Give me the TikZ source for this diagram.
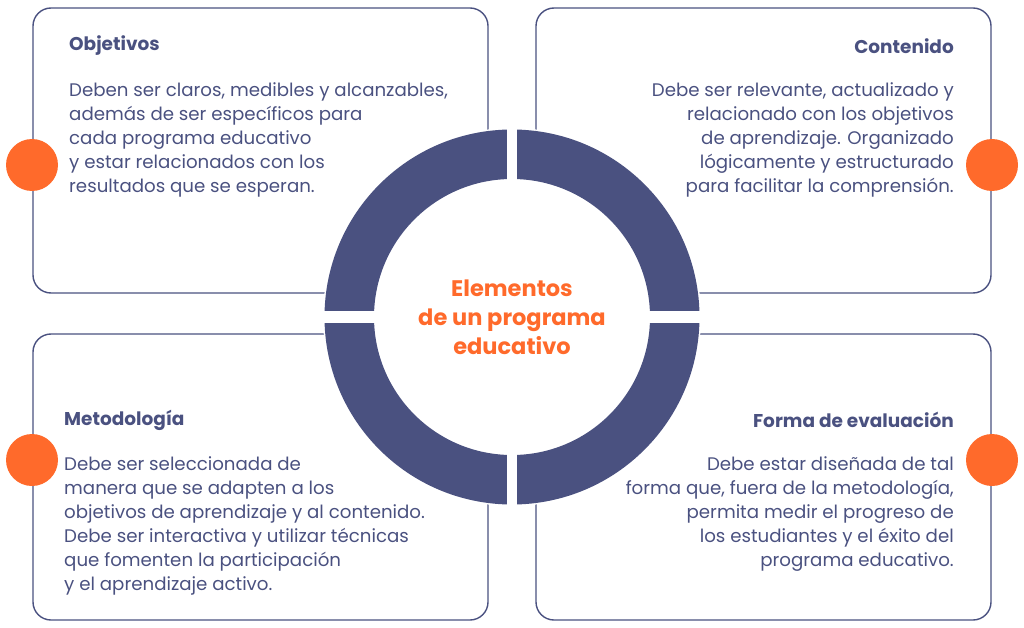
\documentclass[tikz,border=0pt]{standalone}
\usepackage{fontspec}
\setmainfont{Poppins}
\usetikzlibrary{positioning,calc}
\definecolor{navy}{HTML}{4A5180}
\definecolor{orangedot}{HTML}{FF6A2B}
\tikzset{
  card/.style={draw=navy, line width=1.4pt, rounded corners=18pt},
  dot/.style={circle, fill=orangedot, minimum size=52pt, inner sep=0pt},
  head/.style={inner sep=0pt, text=navy, font=\fontsize{18.5}{22}\selectfont\bfseries},
  body/.style={inner sep=0pt, text=navy, font=\fontsize{18.2}{24}\selectfont},
}
\begin{document}
\begin{tikzpicture}[x=1pt,y=-1pt]
\useasboundingbox (0,0) rectangle (1024,628);
% cards
\draw[card] (33,8) rectangle (488,293);
\draw[card] (536,8) rectangle (991,293);
\draw[card] (33,334) rectangle (488,620);
\draw[card] (536,334) rectangle (991,620);
% dots
\node[dot] (d1) at (32,165) {};
\node[dot] (d2) at (992,165) {};
\node[dot] (d3) at (32,460) {};
\node[dot] (d4) at (992,460) {};
% ring
\coordinate (c) at (512,317);
\fill[white] (c) circle (189pt);
\foreach \a in {0,90,180,270}
  \fill[navy] ($(c)+(\a:187.5pt)$) arc[start angle=\a, end angle=\a+90, radius=187.5pt]
    -- ($(c)+(\a+90:138pt)$) arc[start angle=\a+90, end angle=\a, radius=138pt] -- cycle;
\fill[white] (507,120) rectangle (517,514);
\fill[white] (315,311) rectangle (709,323);
\node[text=orangedot, align=center, font=\fontsize{22.5}{29}\selectfont\bfseries] (title) at (c) {Elementos\\de un programa\\educativo};
% texts
\node[head, anchor=west] (h1) at (69,46) {Objetivos};
\node[body, anchor=north west, align=left] (t1) at (69,82) {Deben ser claros, medibles y alcanzables,\\además de ser específicos para\\cada programa educativo\\y estar relacionados con los\\resultados que se esperan.};
\node[head, anchor=east] (h2) at (954,46) {Contenido};
\node[body, anchor=north east, align=right] (t2) at (954,82) {Debe ser relevante, actualizado y\\relacionado con los objetivos\\de aprendizaje. Organizado\\lógicamente y estructurado\\para facilitar la comprensión.};
\node[head, anchor=west] (h3) at (64,420) {Metodología};
\node[body, anchor=north west, align=left] (t3) at (64,456) {Debe ser seleccionada de\\manera que se adapten a los\\objetivos de aprendizaje y al contenido.\\Debe ser interactiva y utilizar técnicas\\que fomenten la participación\\y el aprendizaje activo.};
\node[head, anchor=east] (h4) at (954,420) {Forma de evaluación};
\node[body, anchor=north east, align=right] (t4) at (954,456) {Debe estar diseñada de tal\\forma que, fuera de la metodología,\\permita medir el progreso de\\los estudiantes y el éxito del\\programa educativo.};
\end{tikzpicture}
\end{document}
